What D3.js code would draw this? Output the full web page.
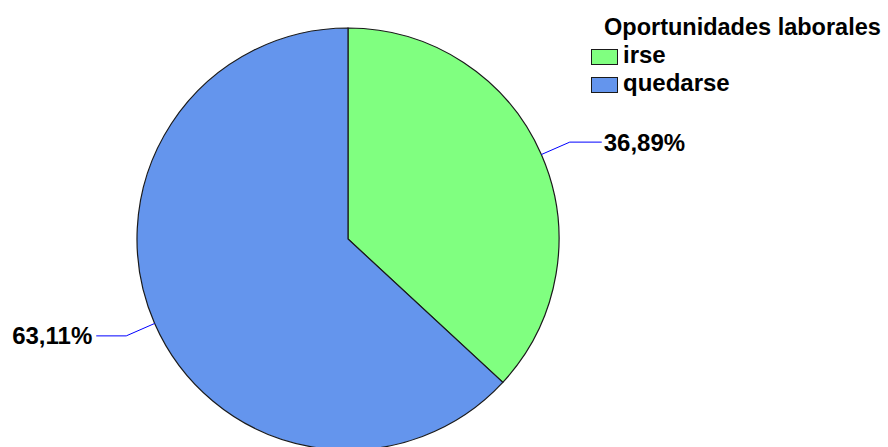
<!DOCTYPE html>
<html>
<head>
<meta charset="utf-8">
<script src="https://cdn.jsdelivr.net/npm/d3@7"></script>
<style>
  body { margin: 0; background: #fff; }
  text { font-family: Arial, "Liberation Sans", sans-serif; font-weight: bold; fill: #000; }
</style>
</head>
<body>
<script>
let categories = ['irse', 'quedarse'];
let values = [36.89, 63.11];
let colors = ['#80ff80', '#6495ed'];
let legendTitle = 'Oportunidades laborales';

let width = 888, height = 447;
let cx = 348, cy = 239;
let radius = 211;

let svg = d3.select('body').append('svg').attr('width', width).attr('height', height);

let data = categories.map(function(c, i) { return { name: c, value: values[i] }; });

let pie = d3.pie().sort(null).value(function(d) { return d.value; });
let arc = d3.arc().innerRadius(0).outerRadius(radius);

let g = svg.append('g').attr('transform', 'translate(' + cx + ',' + cy + ')');

g.selectAll('.slice').data(pie(data)).enter().append('path')
  .attr('class', 'slice')
  .attr('d', arc)
  .style('fill', function(d, i) { return colors[i]; })
  .style('stroke', '#1a1a1a')
  .style('stroke-width', 1.2);

// leader lines + labels
let fmt = function(v) { return v.toFixed(2).replace('.', ',') + '%'; };

pie(data).forEach(function(d) {
  let a = (d.startAngle + d.endAngle) / 2;
  let sx = Math.sin(a), sy = -Math.cos(a);
  let p0 = [sx * radius, sy * radius];
  let p1 = [sx * 242, sy * 242];
  let right = sx > 0;
  let p2 = [p1[0] + (right ? 32 : -30), p1[1]];
  g.append('polyline')
    .attr('points', [p0, p1, p2].map(function(p) { return p.join(','); }).join(' '))
    .style('fill', 'none')
    .style('stroke', '#0000ff')
    .style('stroke-width', 1);
  g.append('text')
    .attr('x', p2[0] + (right ? 2 : -4))
    .attr('y', p2[1])
    .attr('dy', '0.35em')
    .attr('text-anchor', right ? 'start' : 'end')
    .style('font-size', '24px')
    .text(fmt(d.data.value));
});

// legend
let legend = svg.append('g').attr('transform', 'translate(591,0)');
legend.append('text').attr('x', 13).attr('y', 35).style('font-size', '23.5px').text(legendTitle);

let items = legend.selectAll('.item').data(categories).enter().append('g')
  .attr('class', 'item')
  .attr('transform', function(d, i) { return 'translate(0,' + (49 + i * 28) + ')'; });

items.append('rect')
  .attr('x', 0.5).attr('y', 0.5).attr('width', 26).attr('height', 15)
  .style('fill', function(d, i) { return colors[i]; })
  .style('stroke', '#1a1a1a')
  .style('stroke-width', 1);

items.append('text')
  .attr('x', 32).attr('y', 14)
  .style('font-size', '24px')
  .text(function(d) { return d; });
</script>
</body>
</html>
